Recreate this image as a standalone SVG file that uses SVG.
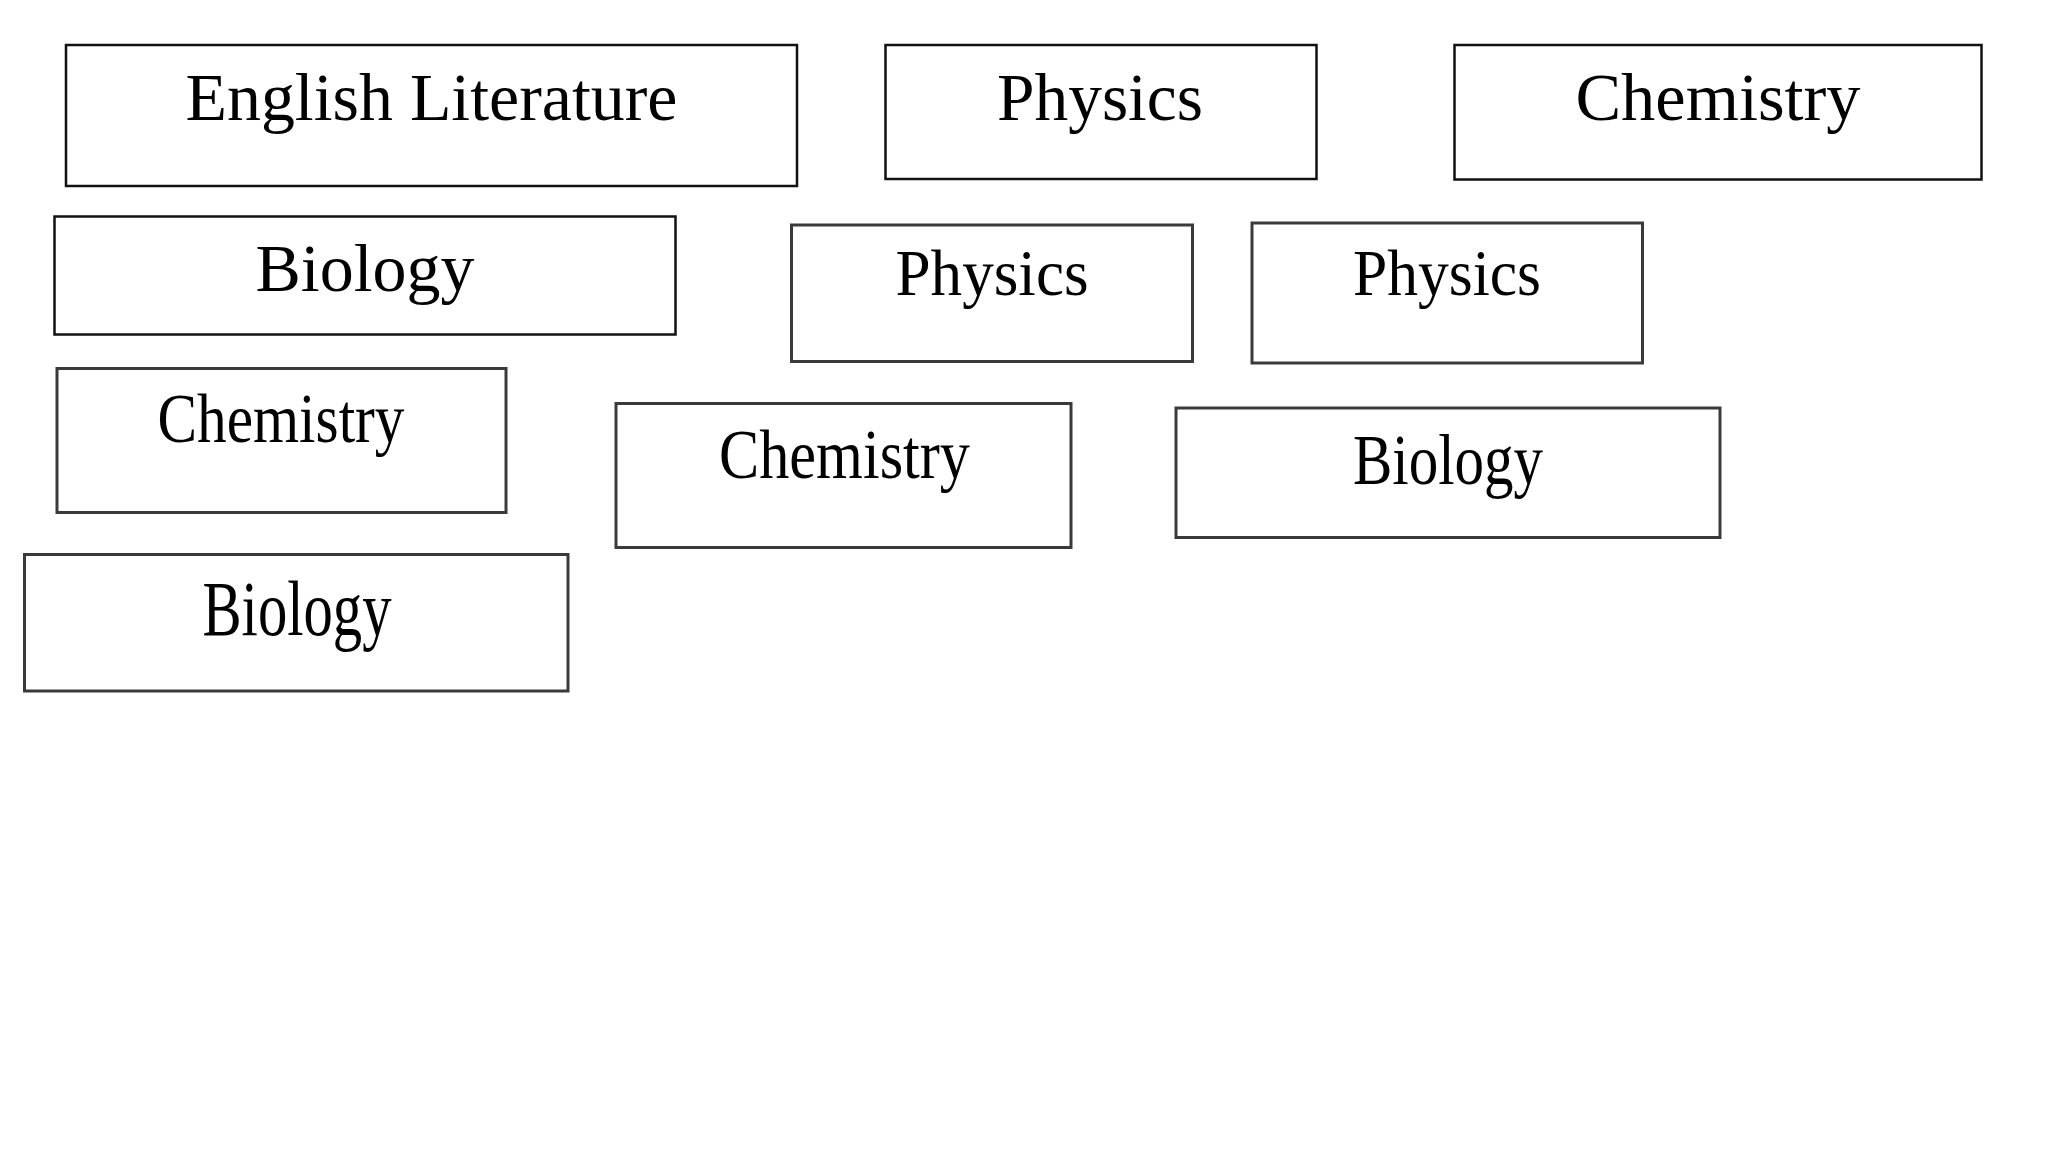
<svg xmlns="http://www.w3.org/2000/svg" width="2048" height="1152" viewBox="0 0 2048 1152">
<style>
.bg{fill:#ffffff}
.box{fill:#ffffff;stroke:#111111;stroke-width:2.5}
.box2{fill:#ffffff;stroke:#3a3a3a;stroke-width:3}
.t{font-family:"Liberation Serif","Times New Roman",serif;fill:#000000;text-anchor:middle}
</style>
<rect class="bg" x="0" y="0" width="2048" height="1152"/>
<g id="node-english-literature">
<rect class="box" x="66" y="45" width="731" height="141"/>
<text class="t" x="431.5" y="120" font-size="68" textLength="492" lengthAdjust="spacingAndGlyphs">English Literature</text>
</g>
<g id="node-physics-1">
<rect class="box" x="885.5" y="45" width="431" height="134"/>
<text class="t" x="1100" y="120" font-size="68" textLength="206" lengthAdjust="spacingAndGlyphs">Physics</text>
</g>
<g id="node-chemistry-1">
<rect class="box" x="1454.5" y="45" width="527" height="134.5"/>
<text class="t" x="1718" y="120" font-size="68" textLength="285" lengthAdjust="spacingAndGlyphs">Chemistry</text>
</g>
<g id="node-biology-1">
<rect class="box" x="54.5" y="216.5" width="621" height="118"/>
<text class="t" x="365" y="291" font-size="68" textLength="219" lengthAdjust="spacingAndGlyphs">Biology</text>
</g>
<g id="node-physics-2">
<rect class="box2" x="791.5" y="225" width="401" height="136.5"/>
<text class="t" x="992" y="295" font-size="65" textLength="193" lengthAdjust="spacingAndGlyphs">Physics</text>
</g>
<g id="node-physics-3">
<rect class="box2" x="1252" y="223" width="390.5" height="140"/>
<text class="t" x="1447" y="295" font-size="65" textLength="188" lengthAdjust="spacingAndGlyphs">Physics</text>
</g>
<g id="node-chemistry-2">
<rect class="box2" x="57" y="368.5" width="449" height="144"/>
<text class="t" x="281" y="442" font-size="69" textLength="247" lengthAdjust="spacingAndGlyphs">Chemistry</text>
</g>
<g id="node-chemistry-3">
<rect class="box2" x="616" y="403.5" width="455" height="144"/>
<text class="t" x="844.5" y="478" font-size="69" textLength="251" lengthAdjust="spacingAndGlyphs">Chemistry</text>
</g>
<g id="node-biology-2">
<rect class="box2" x="1176" y="408" width="544" height="129.5"/>
<text class="t" x="1448" y="484" font-size="72" textLength="190" lengthAdjust="spacingAndGlyphs">Biology</text>
</g>
<g id="node-biology-3">
<rect class="box2" x="24.5" y="554.5" width="543.5" height="136.5"/>
<text class="t" x="297" y="635" font-size="78" textLength="189" lengthAdjust="spacingAndGlyphs">Biology</text>
</g>
<g id="connectors"></g>
</svg>
